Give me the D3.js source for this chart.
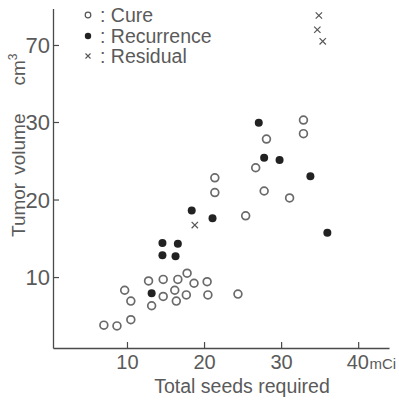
<!DOCTYPE html>
<html><head><meta charset="utf-8">
<script src="https://cdn.jsdelivr.net/npm/d3@7"></script>
<style>
html,body{margin:0;padding:0;background:#fff;}
text{font-family:"Liberation Sans",Arial,sans-serif;fill:#5a5a5a;}
</style></head>
<body><svg id="chart" width="399" height="400"></svg>
<script>
// Data: [total seeds (mCi), tumor volume (cm3)]
const cureX = [7.0, 8.7, 10.5, 10.5, 9.7, 12.8, 13.2, 14.7, 14.7, 16.6, 16.2, 16.4, 17.8, 17.7, 18.7, 20.4, 20.5, 24.4, 25.4, 21.4, 21.4, 27.8, 31.1, 26.7, 28.1, 32.9, 32.9];
const cureY = [3.8, 3.7, 4.5, 6.9, 8.3, 9.5, 6.3, 9.7, 7.5, 9.7, 8.3, 6.9, 10.5, 7.7, 9.2, 9.4, 7.7, 7.8, 17.9, 22.8, 20.9, 21.1, 20.2, 24.1, 27.8, 28.5, 31.0];
const recurX = [13.2, 14.6, 14.6, 16.6, 16.3, 18.4, 21.1, 27.1, 27.8, 29.8, 33.8, 36.0];
const recurY = [7.9, 14.4, 12.8, 14.3, 12.7, 18.6, 17.6, 29.9, 25.4, 25.1, 23.0, 15.7];
const residX = [18.8, 34.9, 34.7, 35.4];
const residY = [16.7, 85.3, 77.9, 71.9];
const xTicks = [10, 20, 30, 40];
const yTicks = [10, 20, 30, 70];
const legendLabels = ["Cure", "Recurrence", "Residual"];

const svg = d3.select("#chart");
const x = d3.scaleLinear().domain([0.4, 44]).range([53, 389]);
const y = d3.scaleLinear().domain([0.85, 30, 89]).range([348, 122, 8.4]);

const axisColor = "#4a4a4a";
// x axis
const gx = svg.append("g").attr("transform", `translate(0,${y(0.85)})`)
  .call(d3.axisBottom(x).tickValues(xTicks).tickSizeInner(-6).tickSizeOuter(0).tickPadding(10)
    .tickFormat(d => d));
gx.select(".domain").attr("stroke", axisColor).attr("stroke-width", 1.3);
gx.selectAll(".tick line").attr("stroke", axisColor).attr("stroke-width", 1.2);
gx.selectAll(".tick text").attr("font-size", 20).attr("fill", "#5a5a5a").attr("y", 7).attr("dy", "0.71em")
  .style("font-family", "'Liberation Sans',Arial,sans-serif");
gx.selectAll(".tick text").filter(d => d === 40).each(function(){
  const t = d3.select(this);
  t.text("40").attr("text-anchor", "start").attr("x", -12);
  t.append("tspan").text("mCi").attr("dx", 0.5).attr("font-size", 15);
});

// y axis
const gy = svg.append("g").attr("transform", `translate(${x(0.4)},0)`)
  .call(d3.axisLeft(y).tickValues(yTicks).tickSizeInner(-6).tickSizeOuter(0).tickPadding(9));
gy.select(".domain").attr("stroke", axisColor).attr("stroke-width", 1.3);
gy.selectAll(".tick line").attr("stroke", axisColor).attr("stroke-width", 1.2);
gy.selectAll(".tick text").attr("font-size", 22).attr("fill", "#5a5a5a").attr("x", -3).attr("dy", "0.36em")
  .style("font-family", "'Liberation Sans',Arial,sans-serif");

// axis titles
svg.append("text").attr("x", 242).attr("y", 393).attr("text-anchor", "middle")
  .attr("font-size", 19.5).text("Total seeds required");
const yt = svg.append("text").attr("transform", "translate(25,237) rotate(-90)")
  .attr("text-anchor", "start").attr("font-size", 19);
yt.append("tspan").text("Tumor");
yt.append("tspan").text("volume").attr("dx", 8);
yt.append("tspan").text("cm").attr("dx", 28);
yt.append("tspan").text("3").attr("font-size", 12).attr("dy", -8);

// points
const cure = cureX.map((v, i) => [v, cureY[i]]);
const recur = recurX.map((v, i) => [v, recurY[i]]);
const resid = residX.map((v, i) => [v, residY[i]]);

svg.append("g").selectAll("circle").data(cure).join("circle")
  .attr("cx", d => x(d[0])).attr("cy", d => y(d[1])).attr("r", 3.9)
  .attr("fill", "none").attr("stroke", "#6a6a6a").attr("stroke-width", 1.7);
svg.append("g").selectAll("circle").data(recur).join("circle")
  .attr("cx", d => x(d[0])).attr("cy", d => y(d[1])).attr("r", 4)
  .attr("fill", "#222");
const cross = d3.symbol().type(d3.symbolX).size(28);
svg.append("g").selectAll("path").data(resid).join("path")
  .attr("transform", d => `translate(${x(d[0])},${y(d[1])})`).attr("d", cross)
  .attr("fill", "none").attr("stroke", "#555").attr("stroke-width", 1.2);

// legend
const lg = svg.append("g");
const rows = [15, 36, 56];
lg.append("circle").attr("cx", 88).attr("cy", rows[0]).attr("r", 2.8).attr("fill", "none").attr("stroke", "#555").attr("stroke-width", 1.2);
lg.append("circle").attr("cx", 88).attr("cy", rows[1]).attr("r", 3.2).attr("fill", "#222");
lg.append("path").attr("transform", `translate(88,${rows[2]})`).attr("d", d3.symbol().type(d3.symbolX).size(18)())
  .attr("fill", "none").attr("stroke", "#555").attr("stroke-width", 1.1);
legendLabels.forEach((l, i) => {
  lg.append("text").attr("x", 100).attr("y", rows[i] + 7).attr("font-size", 19.5).text(":\u00a0" + l);
});
</script></body></html>
